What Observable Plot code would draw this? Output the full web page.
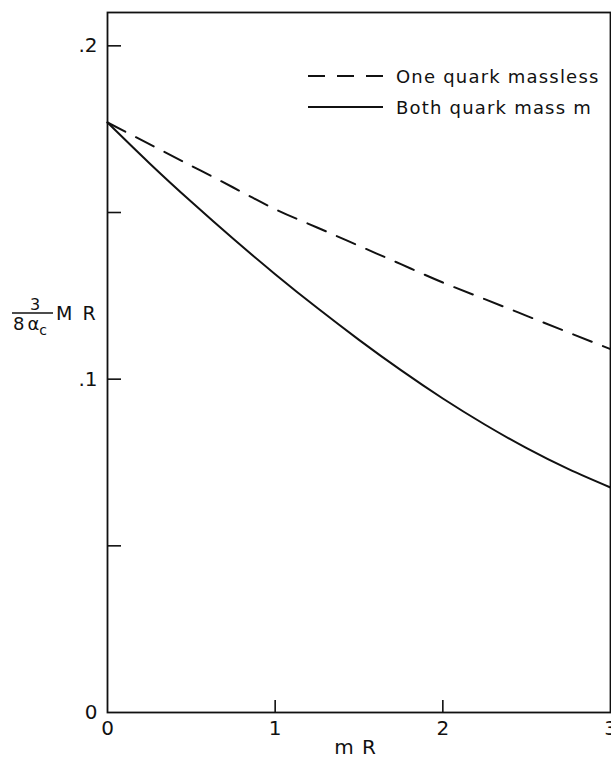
<!DOCTYPE html>
<html><head><meta charset="utf-8">
<script src="https://cdn.jsdelivr.net/npm/d3@7"></script>
<script src="https://cdn.jsdelivr.net/npm/@observablehq/plot@0.6"></script>
<style>
body{margin:0;background:#fff}
svg{display:block;font-family:"DejaVu Sans",sans-serif}
</style>
</head><body><div id="chart"></div>
<script>
// data
const mR = [0, 0.25, 0.5, 0.75, 1, 1.25, 1.5, 1.75, 2, 2.25, 2.5, 2.75, 3];
const oneQuarkMassless = [0.177, 0.1705, 0.164, 0.1575, 0.151, 0.1455, 0.140, 0.1345, 0.129, 0.124, 0.119, 0.114, 0.109];
const bothQuarkMass = [0.177, 0.1648, 0.1532, 0.1421, 0.1315, 0.1214, 0.1118, 0.1027, 0.0942, 0.0864, 0.0793, 0.0730, 0.0675];
const seriesNames = ["One quark massless", "Both quark mass m"];
const yTickMarks = [0.05, 0.1, 0.15, 0.2];
const yTickLabels = [0, 0.1, 0.2];
const yTickText = ["0", ".1", ".2"];
const xTickMarks = [1, 2];
const xTickLabels = [0, 1, 2, 3];
const xTitle = "m R";

const rows = [];
mR.forEach((x, i) => {
  rows.push({x, y: oneQuarkMassless[i], s: seriesNames[0]});
  rows.push({x, y: bothQuarkMass[i], s: seriesNames[1]});
});

const plot = Plot.plot({
  width: 611, height: 758,
  marginLeft: 107, marginRight: 1, marginTop: 12, marginBottom: 46,
  style: {fontFamily: "DejaVu Sans, sans-serif", color: "#111", background: "#fff"},
  x: {domain: [0, 3], axis: null},
  y: {domain: [0, 0.21], axis: null},
  marks: [
    Plot.frame({stroke: "#111", strokeWidth: 1.8}),
    Plot.axisY({ticks: yTickMarks, tickSize: -14, tickFormat: () => "", label: null, strokeWidth: 1.6, stroke: "#111"}),
    Plot.axisY({ticks: yTickLabels, tickSize: 0, tickPadding: 10, fontSize: 20, label: null,
      tickFormat: d => yTickText[yTickLabels.indexOf(d)], fill: "#111"}),
    Plot.axisX({ticks: xTickMarks, tickSize: -12, tickFormat: () => "", label: null, strokeWidth: 1.6, stroke: "#111"}),
    Plot.axisX({ticks: xTickLabels, tickSize: 0, tickPadding: 8, fontSize: 20, label: null, tickFormat: d => String(d), fill: "#111"}),
    Plot.line(rows.filter(d => d.s === seriesNames[0]), {x: "x", y: "y", curve: "natural", stroke: "#111", strokeWidth: 2, strokeDasharray: "20,12"}),
    Plot.line(rows.filter(d => d.s === seriesNames[1]), {x: "x", y: "y", curve: "natural", stroke: "#111", strokeWidth: 2})
  ]
});
document.getElementById("chart").appendChild(plot);

const svg = d3.select(plot);
const xs = plot.scale("x");
// x title
svg.append("text").attr("x", xs.apply(1.5) - 3).attr("y", 754)
  .attr("text-anchor", "middle").attr("font-size", 20).attr("letter-spacing", 1).attr("fill", "#111").text(xTitle);

// y title: 3/(8 alpha_c) M R
const yl = svg.append("g").attr("fill", "#111").attr("text-anchor", "start");
yl.append("text").attr("x", 35).attr("y", 310).attr("text-anchor", "middle").attr("font-size", 16).text("3");
yl.append("line").attr("x1", 12).attr("x2", 53).attr("y1", 313).attr("y2", 313).attr("stroke", "#111").attr("stroke-width", 1.5);
const den = yl.append("text").attr("x", 13).attr("y", 330).attr("font-size", 18).attr("text-anchor", "start");
den.append("tspan").text("8");
den.append("tspan").attr("dx", 3).text("α");
den.append("tspan").attr("dy", 5).attr("font-size", 14).text("c");
yl.append("text").attr("x", 56).attr("y", 320).attr("font-size", 19).attr("letter-spacing", 2).attr("text-anchor", "start").text("M R");

// legend
const leg = svg.append("g");
const legRows = [{y: 76, dash: "17,12"}, {y: 107, dash: null}];
legRows.forEach((r, i) => {
  leg.append("line").attr("x1", 308).attr("x2", 383).attr("y1", r.y).attr("y2", r.y)
    .attr("stroke", "#111").attr("stroke-width", 2).attr("stroke-dasharray", r.dash);
  leg.append("text").attr("x", 396).attr("y", r.y + 7).attr("font-size", 18)
    .attr("letter-spacing", 1.2).attr("text-anchor", "start").attr("fill", "#111").text(seriesNames[i]);
});
</script>
</body></html>
